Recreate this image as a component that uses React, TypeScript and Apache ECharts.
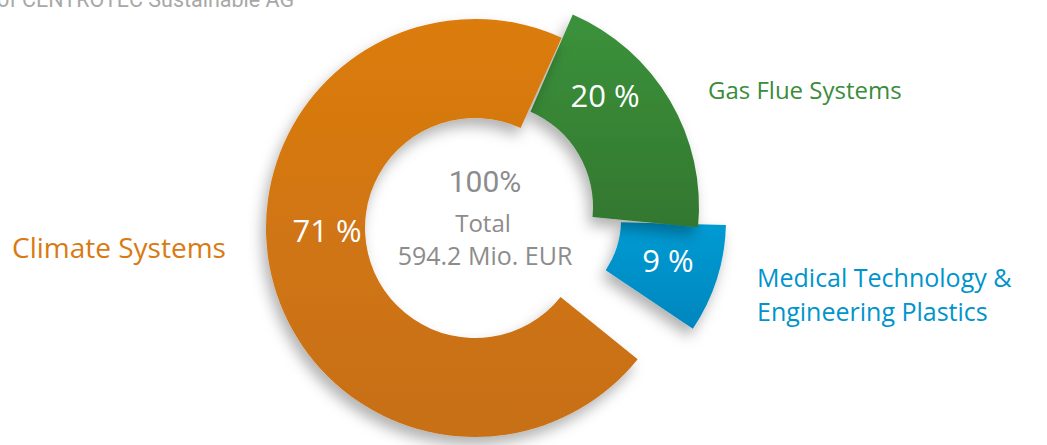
import React, { useEffect, useRef } from 'react';
import * as echarts from 'echarts';

const categories = ['Gas Flue Systems', 'Medical Technology &\nEngineering Plastics', 'Climate Systems'];
const shares = [20, 9, 71];
const centerLines = ['100%', 'Total', '594.2 Mio. EUR'];
const headerText = 'of CENTROTEC Sustainable AG';

const topColors = ['#3B923B', '#009BD3', '#DB7C10'];
const bottomColors = ['#33772F', '#0086BE', '#C76F14'];
const textColors = ['#3A8C3A', '#0094CC', '#D97A12'];

// per-segment geometry (exploded donut)
const geom = [
  { center: [489, 207], radius: [104, 210], startAngle: 66.5, label: [605, 95] },
  { center: [531, 220], radius: [90, 195], startAngle: 70.5, label: [668, 260] },
  { center: [475, 228], radius: [110, 209], startAngle: 65.5, label: [327, 230] },
];
const drawOrder = [1, 0, 2];

export default function App() {
  const ref = useRef<HTMLDivElement>(null);
  useEffect(() => {
    document.body.style.margin = '0';
    const chart = echarts.init(ref.current!, null, { renderer: 'svg' });
    const series = drawOrder.map((k) => ({
      type: 'pie',
      center: geom[k].center,
      radius: geom[k].radius,
      startAngle: geom[k].startAngle,
      clockwise: true,
      silent: true,
      avoidLabelOverlap: false,
      emphasis: { disabled: true },
      labelLine: { show: false },
      labelLayout: () => ({ x: geom[k].label[0], y: geom[k].label[1], align: 'center', verticalAlign: 'middle' }),
      data: shares.map((v, i) => ({
        name: categories[i],
        value: v,
        itemStyle:
          i === k
            ? {
                color: new echarts.graphic.LinearGradient(0, 0, 0, 1, [
                  { offset: 0, color: topColors[i] },
                  { offset: 1, color: bottomColors[i] },
                ]),
                shadowBlur: 14,
                shadowOffsetX: -4,
                shadowOffsetY: 8,
                shadowColor: 'rgba(0,0,0,0.3)',
              }
            : { color: 'transparent', shadowColor: 'transparent', borderWidth: 0 },
        label:
          i === k
            ? {
                show: true,
                position: 'inside',
                formatter: '{c} %',
                color: '#ffffff',
                fontSize: 31,
                fontFamily: 'Open Sans',
                fontWeight: 'normal',
              }
            : { show: false },
      })),
    }));

    const graphics: any[] = [
      {
        type: 'text',
        x: -3,
        y: -1,
        style: { text: headerText, fill: '#a8a8a8', font: '21.5px Roboto', textVerticalAlign: 'middle' },
      },
      {
        type: 'text',
        x: 485,
        y: 181,
        style: { text: centerLines[0], fill: '#8c8c8c', font: '30px Roboto', textAlign: 'center', textVerticalAlign: 'middle' },
      },
      {
        type: 'text',
        x: 483,
        y: 222,
        style: { text: centerLines[1], fill: '#8c8c8c', font: '24px "Open Sans"', textAlign: 'center', textVerticalAlign: 'middle' },
      },
      {
        type: 'text',
        x: 485,
        y: 255,
        style: { text: centerLines[2], fill: '#8c8c8c', font: '25px "Open Sans"', textAlign: 'center', textVerticalAlign: 'middle' },
      },
      {
        type: 'text',
        x: 12,
        y: 247,
        style: { text: categories[2], fill: textColors[2], font: '28px "Open Sans"', textVerticalAlign: 'middle' },
      },
      {
        type: 'text',
        x: 708,
        y: 89,
        style: { text: categories[0], fill: textColors[0], font: '24px "Open Sans"', textVerticalAlign: 'middle' },
      },
      {
        type: 'text',
        x: 757,
        y: 294,
        style: {
          text: categories[1],
          fill: textColors[1],
          font: '25px "Open Sans"',
          lineHeight: 34,
          textVerticalAlign: 'middle',
        },
      },
    ];

    chart.setOption({ animation: false, series, graphic: graphics });
    return () => chart.dispose();
  }, []);
  return <div ref={ref} style={{ width: 1047, height: 445 }} />;
}
